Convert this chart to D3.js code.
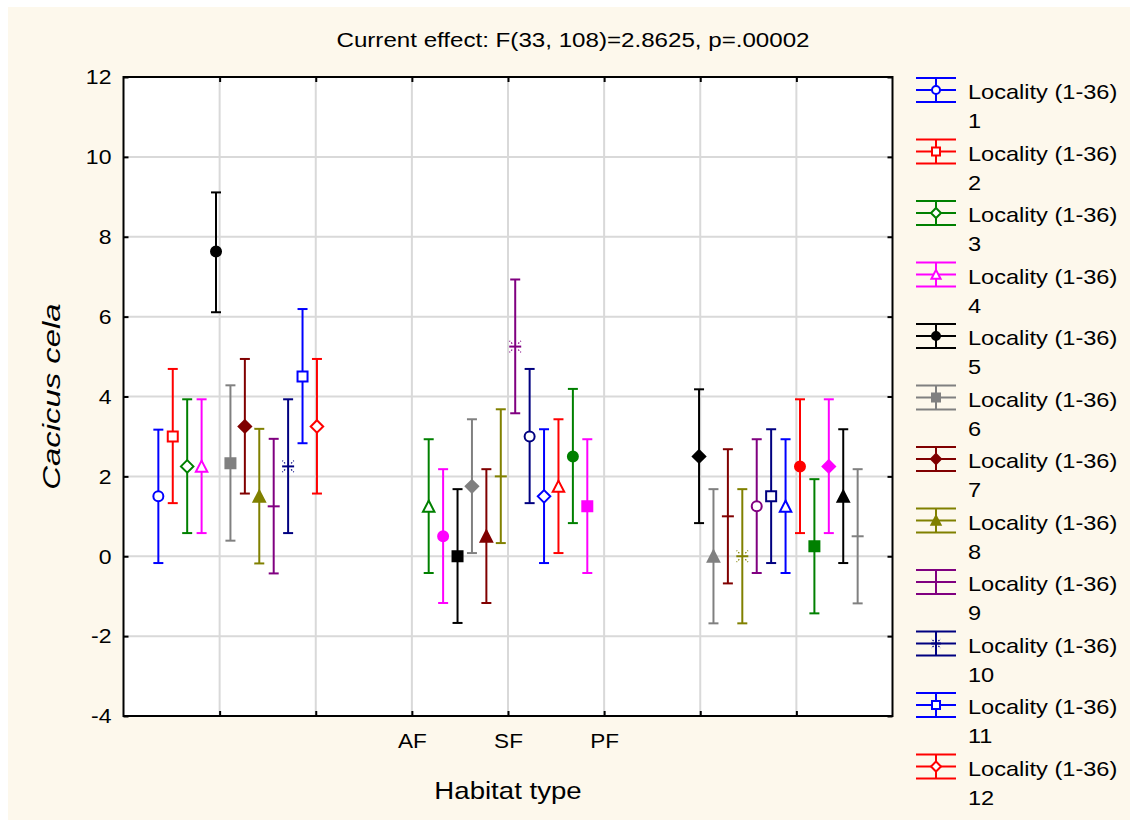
<!DOCTYPE html>
<html>
<head>
<meta charset="utf-8">
<script src="https://cdn.jsdelivr.net/npm/d3@7"></script>
<style>
  * { margin: 0; padding: 0; }
  body { background: #fff; width: 1130px; height: 820px; overflow: hidden; }
  svg { display: block; font-family: Arial, 'Liberation Sans', sans-serif; }
</style>
</head>
<body>
<svg id="chart" width="1130" height="820"></svg>
<script>
// Localities 1-36, 12 per habitat type
const habitats = ["AF", "SF", "PF"];
const xTickLabels = ["", "", "AF", "SF", "PF", "", ""];
const yTicks = [-4, -2, 0, 2, 4, 6, 8, 10, 12];
const groupCenters = [1.1875, 4, 6.8125];
const slot = 0.15;

const means = [
  1.5, 3.0, 2.25, 2.25, 7.63, 2.33, 3.25, 1.5, 1.25, 2.25, 4.5, 3.25,
  1.25, 0.5, 0.0, 1.75, 0.5, 2.0, 5.25, 3.0, 1.5, 1.75, 2.5, 1.25,
  2.5, 0.0, 1.0, 0.0, 1.25, 1.5, 1.25, 2.25, 0.25, 2.25, 1.5, 0.5
];
const lower = [
  -0.17, 1.33, 0.58, 0.58, 6.11, 0.39, 1.57, -0.18, -0.43, 0.58, 2.83, 1.57,
  -0.42, -1.17, -1.67, 0.08, -1.17, 0.33, 3.58, 1.33, -0.17, 0.08, 0.83, -0.42,
  0.83, -1.68, -0.68, -1.68, -0.42, -0.17, -0.42, 0.58, -1.43, 0.58, -0.17, -1.18
];
const upper = [
  3.17, 4.69, 3.93, 3.93, 9.11, 4.28, 4.94, 3.19, 2.94, 3.93, 6.19, 4.94,
  2.93, 2.18, 1.68, 3.43, 2.18, 3.68, 6.93, 4.69, 3.18, 3.43, 4.19, 2.93,
  4.18, 1.68, 2.68, 1.68, 2.93, 3.18, 2.93, 3.93, 1.93, 3.93, 3.18, 2.18
];
const markers = [
  "circleO", "squareO", "diamondO", "triO", "circleF", "squareF", "diamondF", "triF", "plus", "star", "squareO", "diamondO",
  "triO", "circleF", "squareF", "diamondF", "triF", "plus", "star", "circleO", "diamondO", "triO", "circleF", "squareF",
  "diamondF", "triF", "plus", "star", "circleO", "squareO", "triO", "circleF", "squareF", "diamondF", "triF", "plus"
];
const palette = ["#0000FF", "#FF0000", "#008000", "#FF00FF", "#000000", "#808080", "#800000", "#808000", "#800080", "#000080"];
const legendLabels = d3.range(1, 13).map(i => ["Locality (1-36)", String(i)]);

const W = 1130, H = 820;
const margin = { top: 77, right: 237.5, bottom: 104, left: 123.5 };
const stretch = 1.15; // text in the source is drawn a bit wide

const svg = d3.select("#chart");
svg.append("rect").attr("x", 8).attr("y", 7).attr("width", W - 8).attr("height", H - 7).attr("fill", "#FDF8EC");

const x = d3.scaleLinear().domain([0, 8]).range([margin.left, W - margin.right]);
const y = d3.scaleLinear().domain([-4, 12]).range([H - margin.bottom, margin.top]);

svg.append("rect")
  .attr("x", x(0)).attr("y", y(12))
  .attr("width", x(8) - x(0)).attr("height", y(-4) - y(12))
  .attr("fill", "#fff");

// grid
const grid = svg.append("g").attr("stroke", "#D9D9D9").attr("stroke-width", 2);
grid.selectAll(".gy").data(yTicks.filter(d => d > -4 && d < 12)).join("line")
  .attr("x1", x(0)).attr("x2", x(8)).attr("y1", d => y(d)).attr("y2", d => y(d));
grid.selectAll(".gx").data(d3.range(1, 8)).join("line")
  .attr("y1", y(12)).attr("y2", y(-4)).attr("x1", d => x(d)).attr("x2", d => x(d));

// axes with inward ticks
const axisStyle = g => {
  g.select(".domain").remove();
  g.selectAll(".tick line").attr("stroke", "#000").attr("stroke-width", 2);
  g.selectAll("text").attr("fill", "#000").attr("font-family", "Arial, 'Liberation Sans', sans-serif");
};
svg.append("g").attr("transform", `translate(${x(0)},0)`)
  .call(d3.axisLeft(y).tickValues(yTicks).tickSize(-5).tickPadding(10.5).tickFormat(d => String(d)))
  .call(axisStyle)
  .call(g => g.selectAll("text").attr("font-size", 20).attr("transform", `scale(${stretch},1)`).attr("dy", "0.34em"));
svg.append("g").attr("transform", `translate(${x(8)},0)`)
  .call(d3.axisRight(y).tickValues(yTicks).tickSize(-5).tickFormat(""))
  .call(axisStyle);
svg.append("g").attr("transform", `translate(0,${y(-4)})`)
  .call(d3.axisBottom(x).tickValues(d3.range(1, 8)).tickSize(-5).tickPadding(17).tickFormat((d, i) => xTickLabels[i]))
  .call(axisStyle)
  .call(g => g.selectAll("text").attr("font-size", 20.5).attr("transform", `scale(1.1,1)`));
svg.append("g").attr("transform", `translate(0,${y(12)})`)
  .call(d3.axisTop(x).tickValues(d3.range(1, 8)).tickSize(-5).tickFormat(""))
  .call(axisStyle);

svg.append("rect")
  .attr("x", x(0)).attr("y", y(12))
  .attr("width", x(8) - x(0)).attr("height", y(-4) - y(12))
  .attr("fill", "none").attr("stroke", "#000").attr("stroke-width", 2);

// marker shapes
function markerPath(kind, s) {
  const p = d3.path();
  if (kind.startsWith("circle")) { p.moveTo(s, 0); p.arc(0, 0, s, 0, 2 * Math.PI); }
  else if (kind.startsWith("square")) { p.rect(-s, -s, 2 * s, 2 * s); }
  else if (kind.startsWith("diamond")) { const r = s * 1.25; p.moveTo(0, -r); p.lineTo(r, 0); p.lineTo(0, r); p.lineTo(-r, 0); p.closePath(); }
  else if (kind.startsWith("tri")) { const r = s * 1.15; p.moveTo(0, -r); p.lineTo(r, r * 0.95); p.lineTo(-r, r * 0.95); p.closePath(); }
  else { p.moveTo(-s * 1.2, 0); p.lineTo(s * 1.2, 0); } // plus / star bar
  return p.toString();
}
function drawMarker(g, kind, color, s) {
  const filled = kind.endsWith("F");
  const open = kind.endsWith("O");
  g.append("path").attr("d", markerPath(kind, s))
    .attr("fill", filled ? color : open ? "#fff" : "none")
    .attr("stroke", color)
    .attr("stroke-width", 2);
  if (kind === "star") {
    const p = d3.path();
    [[-1, -1], [1, -1], [-1, 1], [1, 1]].forEach(([a, b]) => {
      p.moveTo(a * s * 0.6, b * s * 0.6); p.lineTo(a * s * 1.15, b * s * 1.15);
    });
    g.append("path").attr("d", p.toString()).attr("fill", "none")
      .attr("stroke", color).attr("stroke-width", 1.2).attr("stroke-dasharray", "1.5,1.5");
  }
}

const data = means.map((m, i) => ({
  i, mean: m, lo: lower[i], hi: upper[i],
  pos: groupCenters[Math.floor(i / 12)] + (i % 12 - 5.5) * slot,
  color: palette[i % 10], marker: markers[i]
}));

const bars = svg.append("g").selectAll("g").data(data).join("g")
  .attr("transform", d => `translate(${x(d.pos)},0)`);
bars.append("line").attr("y1", d => y(d.lo)).attr("y2", d => y(d.hi))
  .attr("stroke", d => d.color).attr("stroke-width", 2);
bars.append("line").attr("x1", -5).attr("x2", 5).attr("y1", d => y(d.hi)).attr("y2", d => y(d.hi))
  .attr("stroke", d => d.color).attr("stroke-width", 2);
bars.append("line").attr("x1", -5).attr("x2", 5).attr("y1", d => y(d.lo)).attr("y2", d => y(d.lo))
  .attr("stroke", d => d.color).attr("stroke-width", 2);
bars.each(function (d) {
  const g = d3.select(this).append("g").attr("transform", `translate(0,${y(d.mean)})`);
  drawMarker(g, d.marker, d.color, 5);
});

// title and axis titles
svg.append("text")
  .attr("transform", `translate(573,47) scale(${stretch},1)`)
  .attr("text-anchor", "middle").attr("font-size", 21)
  .text("Current effect: F(33, 108)=2.8625, p=.00002");
svg.append("text")
  .attr("transform", `translate(${x(4)},799) scale(${stretch},1)`)
  .attr("text-anchor", "middle").attr("font-size", 24)
  .text("Habitat type");
svg.append("text")
  .attr("transform", `translate(60,${(y(12) + y(-4)) / 2}) rotate(-90) scale(1.37,1)`)
  .attr("text-anchor", "middle").attr("font-size", 24).attr("font-style", "italic")
  .text("Cacicus cela");

// legend
const legend = svg.append("g").selectAll("g").data(legendLabels).join("g")
  .attr("transform", (d, i) => `translate(916,${90 + i * 61.5})`);
legend.each(function (d, i) {
  const g = d3.select(this);
  const c = palette[i % 10];
  [-12, 0, 12].forEach(dy => g.append("line").attr("x1", 0).attr("x2", 40).attr("y1", dy).attr("y2", dy)
    .attr("stroke", c).attr("stroke-width", 2));
  g.append("line").attr("x1", 20).attr("x2", 20).attr("y1", -12).attr("y2", 12).attr("stroke", c).attr("stroke-width", 2);
  const mg = g.append("g").attr("transform", "translate(20,0)");
  drawMarker(mg, markers[i], c, 4);
  g.append("text").attr("transform", `translate(52,9) scale(${stretch},1)`).attr("font-size", 20.5).text(d[0]);
  g.append("text").attr("transform", `translate(52,38) scale(${stretch},1)`).attr("font-size", 20.5).text(d[1]);
});
</script>
</body>
</html>
